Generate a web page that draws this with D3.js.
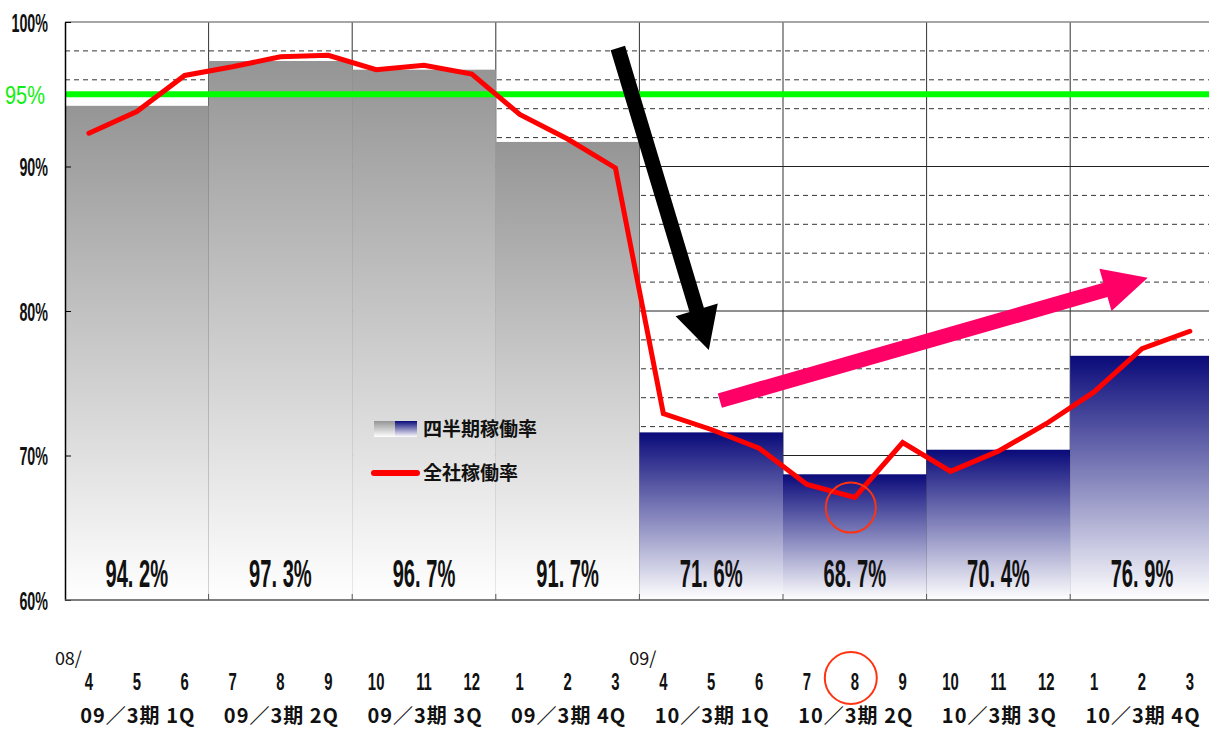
<!DOCTYPE html>
<html>
<head>
<meta charset="utf-8">
<script src="https://cdn.jsdelivr.net/npm/d3@7/dist/d3.min.js"></script>
<style>
  body { margin: 0; background: #fff; }
  svg { display: block; }
</style>
</head>
<body>
<svg id="chart" width="1209" height="729"></svg>
<script>
// 四半期 (棒)
const quarters = ["09／3期 1Q", "09／3期 2Q", "09／3期 3Q", "09／3期 4Q",
                  "10／3期 1Q", "10／3期 2Q", "10／3期 3Q", "10／3期 4Q"];
const quarterRates = [94.2, 97.3, 96.7, 91.7, 71.6, 68.7, 70.4, 76.9];
const quarterColor = ["gray", "gray", "gray", "gray", "navy", "navy", "navy", "navy"];

// 月次 (折れ線)
const months = ["4", "5", "6", "7", "8", "9", "10", "11", "12", "1", "2", "3",
                "4", "5", "6", "7", "8", "9", "10", "11", "12", "1", "2", "3"];
const monthlyRates = [92.3, 93.8, 96.3, 96.9, 97.6, 97.7, 96.7, 97.0, 96.4, 93.6, 91.9, 89.9,
                      72.9, 71.8, 70.5, 68.0, 67.1, 70.9, 68.9, 70.3, 72.2, 74.4, 77.4, 78.6];
const yearMarks = [{ month: 0, label: "08/" }, { month: 12, label: "09/" }];

const yTicks = [60, 70, 80, 90, 100];
const yMinor = [62, 64, 66, 68, 72, 74, 76, 78, 82, 84, 86, 88, 92, 94, 96, 98];
const target = 95;

// 注記 (月インデックス, %)
const downArrow = { from: [11.05, 98.2], to: [12.95, 77.3] };
const upArrow = { from: [13.18, 73.8], to: [22.12, 82.3] };
const lowCircle = { month: 16, value: 66.4 };
const lowMonth = 16;

// レイアウト
const plotLeft = 65, plotTop = 22, plotBottom = 600;
const colW = 143.6;
const plotRight = plotLeft + colW * quarters.length;

const svg = d3.select("#chart");
const narrow = "'Liberation Sans', Arial, sans-serif";
const jp = "'Noto Sans CJK JP', sans-serif";

const y = d3.scaleLinear().domain([60, 100]).range([plotBottom, plotTop]);
const xQ = d3.scaleBand().domain(d3.range(quarters.length)).range([plotLeft, plotRight]).padding(0);
const xM = d3.scaleBand().domain(d3.range(months.length)).range([plotLeft, plotRight]).padding(0);
const mx = i => plotLeft + (i + 0.5) * xM.bandwidth();

// グラデーション
const defs = svg.append("defs");
function grad(id, c0) {
  const g = defs.append("linearGradient").attr("id", id)
    .attr("x1", 0).attr("y1", 0).attr("x2", 0).attr("y2", 1);
  g.append("stop").attr("offset", "0%").attr("stop-color", c0);
  g.append("stop").attr("offset", "100%").attr("stop-color", "#ffffff");
}
grad("gray", "#959595");
grad("navy", "#0a0a7a");

// グリッド
svg.append("g").selectAll("line").data(yMinor).join("line")
  .attr("x1", plotLeft).attr("x2", plotRight)
  .attr("y1", d => y(d)).attr("y2", d => y(d))
  .attr("stroke", "#333").attr("stroke-width", 1).attr("stroke-dasharray", "5,4");
svg.append("g").selectAll("line").data([70, 80, 90]).join("line")
  .attr("x1", plotLeft).attr("x2", plotRight)
  .attr("y1", d => y(d)).attr("y2", d => y(d))
  .attr("stroke", "#222").attr("stroke-width", 1);
svg.append("g").selectAll("line").data(d3.range(1, quarters.length)).join("line")
  .attr("x1", d => xQ(d)).attr("x2", d => xQ(d))
  .attr("y1", plotTop).attr("y2", plotBottom)
  .attr("stroke", "#333").attr("stroke-width", 1);
svg.append("line")
  .attr("x1", plotLeft).attr("x2", plotRight).attr("y1", plotTop).attr("y2", plotTop)
  .attr("stroke", "#888").attr("stroke-width", 1.5);

// 棒
svg.append("g").selectAll("rect").data(quarterRates).join("rect")
  .attr("x", (d, i) => xQ(i))
  .attr("width", xQ.bandwidth())
  .attr("y", d => y(d))
  .attr("height", d => plotBottom - y(d))
  .attr("fill", (d, i) => `url(#${quarterColor[i]})`);

// 棒ラベル
svg.append("g").selectAll("text").data(quarterRates).join("text")
  .attr("transform", (d, i) => `translate(${xQ(i) + xQ.bandwidth() / 2},${plotBottom - 13}) scale(0.53,1)`)
  .attr("text-anchor", "middle")
  .attr("font-family", narrow).attr("font-weight", "bold").attr("font-size", 38)
  .attr("fill", "#111")
  .text(d => d3.format(".1f")(d).replace(".", ". ") + "%");

// 目標線 95%
svg.append("line")
  .attr("x1", plotLeft).attr("x2", plotRight)
  .attr("y1", y(target)).attr("y2", y(target))
  .attr("stroke", "#00ff00").attr("stroke-width", 6);
svg.append("text")
  .attr("transform", `translate(5,${y(target) + 10}) scale(0.8,1)`)
  .attr("font-family", narrow).attr("font-size", 25)
  .attr("fill", "#11ee11").text("95%");

// 軸
const yAxis = svg.append("g")
  .attr("transform", `translate(${plotLeft},0)`)
  .call(d3.axisLeft(y).tickValues(yTicks).tickSizeInner(-6).tickSizeOuter(0).tickFormat(d => d + "%"));
yAxis.select(".domain").attr("stroke", "#000").attr("stroke-width", 1.5);
yAxis.selectAll(".tick line").attr("stroke", "#000");
yAxis.selectAll(".tick text")
  .attr("x", null).attr("dy", "0.36em")
  .attr("transform", "translate(-17,0) scale(0.55,1)")
  .attr("font-family", narrow).attr("font-weight", "bold").attr("font-size", 26)
  .attr("fill", "#111");

svg.append("line")
  .attr("x1", plotLeft).attr("x2", plotRight).attr("y1", plotBottom).attr("y2", plotBottom)
  .attr("stroke", "#555").attr("stroke-width", 1.5);
svg.append("g").selectAll("line").data(d3.range(1, quarters.length)).join("line")
  .attr("x1", d => xQ(d)).attr("x2", d => xQ(d))
  .attr("y1", plotBottom).attr("y2", plotBottom - 6)
  .attr("stroke", "#555");

// 折れ線
svg.append("path")
  .datum(monthlyRates)
  .attr("d", d3.line().x((d, i) => mx(i)).y(d => y(d)))
  .attr("fill", "none").attr("stroke", "#ff0000").attr("stroke-width", 5)
  .attr("stroke-linejoin", "miter").attr("stroke-linecap", "round");

// 矢印
function arrowPath(x0, y0, x1, y1, shaftW, headW, headL) {
  const dx = x1 - x0, dy = y1 - y0, len = Math.hypot(dx, dy);
  const ux = dx / len, uy = dy / len, nx = -uy, ny = ux;
  const bx = x1 - ux * headL, by = y1 - uy * headL;
  const p = [
    [x0 + nx * shaftW / 2, y0 + ny * shaftW / 2],
    [bx + nx * shaftW / 2, by + ny * shaftW / 2],
    [bx + nx * headW / 2, by + ny * headW / 2],
    [x1, y1],
    [bx - nx * headW / 2, by - ny * headW / 2],
    [bx - nx * shaftW / 2, by - ny * shaftW / 2],
    [x0 - nx * shaftW / 2, y0 - ny * shaftW / 2]
  ];
  return "M" + p.map(q => q.join(",")).join("L") + "Z";
}
svg.append("path")
  .attr("d", arrowPath(mx(downArrow.from[0]), y(downArrow.from[1]), mx(downArrow.to[0]), y(downArrow.to[1]), 15, 44, 42))
  .attr("fill", "#000");
svg.append("path")
  .attr("d", arrowPath(mx(upArrow.from[0]), y(upArrow.from[1]), mx(upArrow.to[0]), y(upArrow.to[1]), 15, 44, 44))
  .attr("fill", "#ff0066");

// 丸印
svg.append("circle")
  .attr("cx", mx(lowCircle.month) - 4).attr("cy", y(lowCircle.value)).attr("r", 25)
  .attr("fill", "none").attr("stroke", "#ff3311").attr("stroke-width", 2);

// 月ラベル
const monthY = 690;
svg.append("g").selectAll("text").data(months).join("text")
  .attr("transform", (d, i) => `translate(${mx(i)},${monthY}) scale(0.62,1)`)
  .attr("text-anchor", "middle")
  .attr("font-family", narrow).attr("font-weight", "bold").attr("font-size", 24)
  .attr("fill", "#111")
  .text(d => d);
svg.append("circle")
  .attr("cx", mx(lowMonth) - 4).attr("cy", monthY - 12).attr("r", 26)
  .attr("fill", "none").attr("stroke", "#ff3311").attr("stroke-width", 2);

svg.append("g").selectAll("text").data(yearMarks).join("text")
  .attr("x", d => mx(d.month) - 7).attr("y", 665)
  .attr("text-anchor", "end")
  .attr("font-family", jp).attr("font-size", 18)
  .attr("fill", "#111")
  .text(d => d.label);

// 四半期ラベル
svg.append("g").selectAll("text").data(quarters).join("text")
  .attr("x", (d, i) => xQ(i) + xQ.bandwidth() / 2 + 1).attr("y", 723)
  .attr("text-anchor", "middle")
  .attr("font-family", jp).attr("font-weight", "bold").attr("font-size", 20)
  .attr("letter-spacing", 1)
  .attr("fill", "#111")
  .text(d => d);

// 凡例
const lg = svg.append("g").attr("transform", "translate(374,421)");
lg.append("rect").attr("width", 22).attr("height", 16).attr("fill", "url(#gray)");
lg.append("rect").attr("x", 21).attr("width", 22).attr("height", 16).attr("fill", "url(#navy)");
lg.append("text").attr("x", 49).attr("y", 8).attr("dy", "0.36em")
  .attr("font-family", jp).attr("font-weight", "bold").attr("font-size", 19)
  .attr("fill", "#111").text("四半期稼働率");
lg.append("line").attr("x1", 0).attr("x2", 43).attr("y1", 52).attr("y2", 52)
  .attr("stroke", "#ff0000").attr("stroke-width", 6).attr("stroke-linecap", "round");
lg.append("text").attr("x", 49).attr("y", 52).attr("dy", "0.36em")
  .attr("font-family", jp).attr("font-weight", "bold").attr("font-size", 19)
  .attr("fill", "#111").text("全社稼働率");
</script>
</body>
</html>
